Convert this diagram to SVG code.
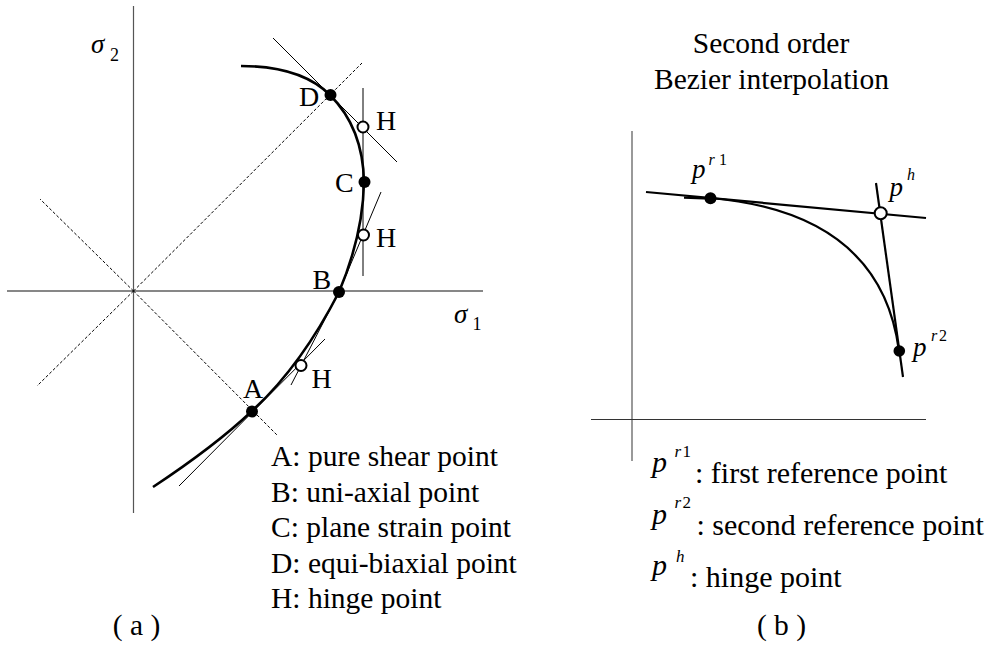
<svg xmlns="http://www.w3.org/2000/svg" width="988" height="647" viewBox="0 0 988 647" font-family="'Liberation Serif', 'Times New Roman', 'DejaVu Serif', serif">
<style>
text{font-family:'Liberation Serif','Times New Roman','DejaVu Serif',serif;fill:#000}
.lbl{font-size:28px}
.leg{font-size:29.5px}
.it{font-style:italic}
.axis{stroke-width:1.2;fill:none}
.dash{stroke:#000;stroke-width:1;stroke-dasharray:3 2;fill:none}
.thin{stroke:#000;stroke-width:1;fill:none}
.curve{stroke:#000;stroke-width:2.6;fill:none}
.bz{stroke:#000;stroke-width:2.2;fill:none}
.fill{fill:#000}
.open{fill:#fff;stroke:#000;stroke-width:2}
</style>
<rect width="988" height="647" fill="#fff"/>

<!-- Panel (a) -->
<g id="axes-a">
<line class="axis" x1="133.5" y1="6" x2="133.5" y2="513" stroke="#555"/>
<line class="axis" x1="7" y1="291" x2="483" y2="291" stroke="#111"/>
</g>
<g id="guides-a">
<line class="dash" x1="133.5" y1="291" x2="362" y2="63"/>
<line class="dash" x1="133.5" y1="291" x2="278" y2="436"/>
<line class="dash" x1="133.5" y1="291" x2="40" y2="199"/>
<line class="dash" x1="133.5" y1="291" x2="37" y2="386"/>
</g>
<text class="it" x="91" y="53" font-size="27">σ</text>
<text x="110" y="60.5" font-size="18">2</text>
<text class="it" x="454" y="323" font-size="27">σ</text>
<text x="472.5" y="330" font-size="18">1</text>

<g id="curve-a">
<path class="curve" d="M241,66 Q301,66 330,95 Q363,128 364,182 Q363,235 339,292 Q301,366 252,411 Q215,446 153,487"/>
</g>
<g id="connectors">
<line class="thin" x1="273" y1="38" x2="397" y2="162"/>
<line class="thin" x1="363" y1="88" x2="363" y2="276"/>
<polyline class="thin" points="381,192 339,292 291,385"/>
<line class="thin" x1="325" y1="339" x2="179" y2="486"/>
<line class="bz" x1="646" y1="192" x2="926" y2="218"/>
<line class="bz" x1="876" y1="183" x2="903" y2="377"/>
</g>

<g id="node-D"><circle class="fill" cx="330.5" cy="95" r="6"/><text class="lbl" x="299" y="106">D</text></g>
<g id="node-H1"><circle class="open" cx="363" cy="127" r="5.5"/><text class="lbl" x="376" y="129.5">H</text></g>
<g id="node-C"><circle class="fill" cx="364.5" cy="182" r="6"/><text class="lbl" x="335" y="191.5">C</text></g>
<g id="node-H2"><circle class="open" cx="363.5" cy="235" r="5.5"/><text class="lbl" x="376" y="247">H</text></g>
<g id="node-B"><circle class="fill" cx="339" cy="292" r="6"/><text class="lbl" x="312.5" y="288.5">B</text></g>
<g id="node-H3"><circle class="open" cx="301" cy="365.5" r="5.5"/><text class="lbl" x="311.5" y="387.5">H</text></g>
<g id="node-A"><circle class="fill" cx="252" cy="411.5" r="6"/><text class="lbl" x="243" y="398">A</text></g>

<g id="legend-a">
<text class="leg" x="271" y="466">A: pure shear point</text>
<text class="leg" x="271" y="501.5">B: uni-axial point</text>
<text class="leg" x="271" y="537">C: plane strain point</text>
<text class="leg" x="271" y="572.5">D: equi-biaxial point</text>
<text class="leg" x="271" y="608">H: hinge point</text>
<text class="leg" x="136.5" y="635" text-anchor="middle">( a )</text>
</g>

<!-- Panel (b) -->
<text class="leg" x="771" y="53" text-anchor="middle">Second order</text>
<text class="leg" x="771.5" y="89" text-anchor="middle">Bezier interpolation</text>
<g id="axes-b">
<line class="axis" x1="632" y1="131" x2="632" y2="461" stroke="#555"/>
<line class="axis" x1="591" y1="419.5" x2="926" y2="419.5" stroke="#333"/>
</g>
<g id="curve-b">
<path class="bz" d="M684,197.6 L710,198.6"/>
<path class="bz" d="M710,198 Q881,213 899,351"/>
</g>
<g id="node-pr1">
<circle class="fill" cx="710.5" cy="198.3" r="6"/>
<text class="it" x="692" y="177.5" font-size="27">p</text>
<text class="it" x="708.5" y="165" font-size="16">r</text>
<text x="719" y="165" font-size="16">1</text>
</g>
<g id="node-ph">
<circle class="open" cx="880.7" cy="213.3" r="6"/>
<text class="it" x="889.5" y="195.5" font-size="27">p</text>
<text class="it" x="907" y="180" font-size="16">h</text>
</g>
<g id="node-pr2">
<circle class="fill" cx="899.3" cy="351" r="5.8"/>
<text class="it" x="913" y="355.5" font-size="27">p</text>
<text class="it" x="931" y="341" font-size="16">r</text>
<text x="939" y="341" font-size="16">2</text>
</g>

<g id="legend-b">
<text class="it" x="652" y="471.5" font-size="30">p</text>
<text class="it" x="674.5" y="456.5" font-size="17">r</text>
<text x="682.5" y="456.5" font-size="17">1</text>
<text x="695" y="482.7" font-size="30">: first reference point</text>
<text class="it" x="652" y="523.5" font-size="30">p</text>
<text class="it" x="674.5" y="508" font-size="17">r</text>
<text x="682.5" y="508" font-size="17">2</text>
<text x="696.5" y="535" font-size="30">: second reference point</text>
<text class="it" x="652" y="575" font-size="30">p</text>
<text class="it" x="676" y="561.5" font-size="17">h</text>
<text x="690" y="586.7" font-size="30">: hinge point</text>
<text class="leg" x="781.5" y="635" text-anchor="middle">( b )</text>
</g>
</svg>
